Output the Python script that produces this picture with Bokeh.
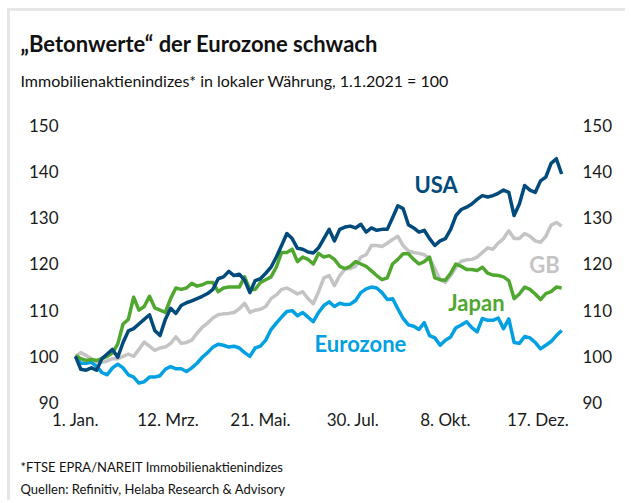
from bokeh.plotting import figure
from bokeh.models import FixedTicker, LinearAxis, Range1d, Label, Plot
from bokeh.layouts import column
from bokeh.embed import file_html
from bokeh.resources import INLINE

# day offsets from 1.1.2021
days = list(range(0, 369, 4))

usa = [100, 97.2, 97.0, 97.5, 97.0, 99.5, 100.5, 101.5, 99.8, 103, 105.5, 106, 107, 108, 109,
       105.6, 104.5, 108, 110.4, 109.3, 111, 111.6, 112, 112.5, 113, 113.6, 114.5, 116.8, 117.2,
       118.4, 117.5, 117.8, 116.5, 113.8, 116.4, 116.8, 118, 119.3, 121.5, 124, 126.6, 125.5,
       123.4, 123.2, 122.6, 122.4, 123.5, 125.5, 127.5, 125, 127.5, 128, 128.2, 127.8, 128.6,
       126.9, 127.8, 127.3, 127.5, 127.5, 130, 132.6, 132, 128.5, 127.8, 126.9, 127.3, 125.5,
       124, 125, 125.5, 127.5, 130.5, 131.8, 132.3, 133, 134, 134.8, 134.5, 134.8, 135.3, 136,
       135.5, 130.5, 133, 137, 136, 135.5, 138, 138.8, 141.8, 142.8, 139.5]

gb = [100, 100.8, 100.2, 99.5, 98.8, 98.7, 99, 99.5, 99.5, 100, 100.5, 100, 101.5, 103.1, 102.2,
      101.3, 101.8, 102, 102.8, 104.2, 102.8, 103, 103.5, 105, 106.3, 107.2, 108.3, 109, 109.2,
      109.3, 109.5, 110.3, 111.5, 109.5, 110, 110.2, 110.8, 112.5, 113.3, 114.5, 114.8, 114.2,
      113.5, 114, 112.5, 111.4, 114, 117, 117.5, 115.3, 117.5, 118.9, 119, 119.5, 121.5, 122,
      124, 124, 123.8, 124.5, 125.3, 126, 124, 122.8, 122.5, 122.3, 122, 121.2, 119, 116.6, 116,
      117.5, 119.3, 120.6, 120.9, 121, 121.5, 122.5, 123.5, 123.2, 124.5, 125.5, 127.2, 125.5,
      125.5, 126.6, 126, 125, 124.7, 126, 128.4, 129, 128.2]

japan = [100.2, 99.5, 99.1, 99.3, 99.1, 99.5, 100, 100.7, 102.7, 107, 108, 112.8, 110, 110.8, 113,
         110.5, 110, 109.5, 112.5, 114.8, 114.5, 114.8, 115.8, 115.2, 115.5, 116, 116, 114, 114.8,
         115, 115, 115, 117.2, 114.5, 114.5, 116, 116.6, 117.2, 119.3, 122.5, 122.5, 123.2, 120.5,
         121.5, 121, 120, 122.3, 121.5, 121.8, 121, 119.5, 119, 119.5, 120.5, 120, 119.5, 118.5,
         117.5, 116.6, 117, 120, 121, 122.2, 122.2, 121, 120, 120.5, 121.5, 117, 116.6, 116.5,
         118, 120, 119.5, 118.8, 118.8, 118.6, 119.3, 118, 117.6, 117.5, 117.2, 116.4, 112.5,
         113.5, 115, 114.5, 113.5, 112.3, 113.6, 114, 115, 114.8]

eurozone = [100, 98.5, 98.5, 98.7, 97.8, 96.5, 96, 97.5, 98.3, 97.5, 96, 95.5, 94.2, 94.5, 95.5,
            95.5, 95.8, 97.2, 97.8, 97.3, 97.3, 96.7, 97.5, 98.5, 99.8, 100.8, 102, 102.6, 102.4,
            102, 102.2, 101.8, 100.8, 100, 101.8, 102.2, 103.5, 105.8, 107.2, 108.5, 109.7, 109.9,
            108.8, 109.5, 108.5, 107.5, 109.5, 111, 111.8, 110.8, 111.5, 111.2, 111.3, 112.1, 113.8,
            114.6, 115, 114.8, 113.8, 112.3, 112.5, 110.3, 108.2, 106.8, 106.5, 105.8, 107.3, 104.5,
            104, 102.4, 103.5, 104.2, 106.2, 106.8, 107.5, 106.2, 105.3, 108.2, 107.8, 107.8, 108.3,
            106, 108.1, 103, 102.8, 104.3, 104, 103, 101.6, 102.4, 103.2, 104.5, 105.6]

x_ticks = [0, 70, 140, 210, 280, 350]
x_tick_labels = ["1. Jan.", "12. Mrz.", "21. Mai.", "30. Jul.", "8. Okt.", "17. Dez."]
y_ticks = [90, 100, 110, 120, 130, 140, 150]

series_names = ["GB", "Eurozone", "Japan", "USA"]
series_colors = {"USA": "#004a7c", "GB": "#c4c4c4", "Japan": "#4fa72f", "Eurozone": "#00a0e2"}
series_data = {"USA": usa, "GB": gb, "Japan": japan, "Eurozone": eurozone}

title_text = "„Betonwerte“ der Eurozone schwach"
subtitle_text = "Immobilienaktienindizes* in lokaler Währung, 1.1.2021 = 100"
note_text = "*FTSE EPRA/NAREIT Immobilienaktienindizes"
source_text = "Quellen: Refinitiv, Helaba Research & Advisory"

FONT = "Lato"
W = 615
TEXT_COLOR = "#111111"
NO_ALIGN = {"frame_align": False} if "frame_align" in Plot.properties() else {}


def text_panel(height):
    f = figure(width=W, height=height, output_backend="svg", toolbar_location=None,
               x_range=Range1d(0, W), y_range=Range1d(height, 0),
               x_axis_type=None, y_axis_type=None, min_border=0,
               outline_line_color=None, background_fill_color="white",
               border_fill_color="white", **NO_ALIGN)
    f.grid.visible = False
    return f


def add_text(f, x, y, txt, size, bold=False):
    f.add_layout(Label(x=x, y=y, text=txt, text_font=FONT, text_font_size=size,
                       text_font_style="bold" if bold else "normal", text_color=TEXT_COLOR,
                       text_align="left", text_baseline="middle"))


# header
head = text_panel(89)
add_text(head, 10, 32, title_text, "22px", bold=True)
add_text(head, 10, 69, subtitle_text, "16px")

# main chart
p = figure(width=W, height=340, output_backend="svg", toolbar_location=None,
           x_range=Range1d(-3.785, 374.7), y_range=Range1d(89.35, 152.16),
           min_border_left=60, min_border_right=55, min_border_top=15, min_border_bottom=35,
           outline_line_color=None, background_fill_color="white", border_fill_color="white",
           **NO_ALIGN)
p.grid.visible = False

for name in series_names:
    p.line(days, series_data[name], line_color=series_colors[name], line_width=3.5,
           line_join="round")

p.xaxis.ticker = FixedTicker(ticks=x_ticks)
p.xaxis.major_label_overrides = {t: l for t, l in zip(x_ticks, x_tick_labels)}
p.yaxis.ticker = FixedTicker(ticks=y_ticks)
right = LinearAxis(ticker=FixedTicker(ticks=y_ticks))
p.add_layout(right, "right")
for ax in [p.xaxis[0], p.yaxis[0], right]:
    ax.axis_line_color = None
    ax.major_tick_line_color = None
    ax.minor_tick_line_color = None
    ax.major_tick_out = 0
    ax.major_tick_in = 0
    ax.minor_tick_out = 0
    ax.minor_tick_in = 0
    ax.major_label_text_font = FONT
    ax.major_label_text_font_size = "17px"
    ax.major_label_text_color = "#1a1a1a"
p.xaxis.major_label_standoff = 3
p.yaxis[0].major_label_standoff = 12
right.major_label_standoff = 12

lbls = [("USA", 273, 137.2), ("GB", 355, 119.9), ("Japan", 303.5, 111.7), ("Eurozone", 215.7, 102.8)]
for name, lx, ly in lbls:
    p.add_layout(Label(x=lx, y=ly, text=name, text_font=FONT, text_font_style="bold",
                       text_font_size="22px", text_color=series_colors[name],
                       text_align="center", text_baseline="middle"))

# footer
foot = text_panel(60)
add_text(foot, 10, 26, note_text, "13px")
add_text(foot, 10, 48, source_text, "13px")

layout = column(head, p, foot, spacing=0)
layout.styles = {"margin-top": "8px", "margin-left": "7px",
                 "border-top": "3px solid #e6e6e6", "border-left": "3px solid #e6e6e6"}

open("out.html", "w").write(file_html(layout, INLINE))
